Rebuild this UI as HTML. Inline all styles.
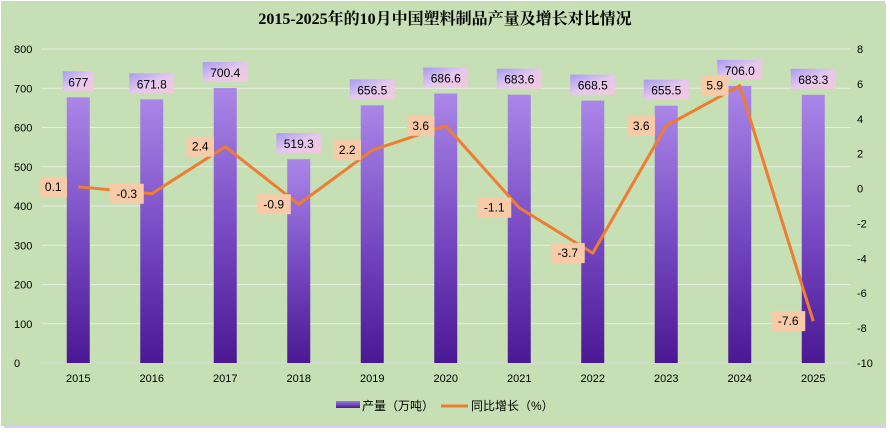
<!DOCTYPE html>
<html><head><meta charset="utf-8"><style>
body{margin:0;background:#fff;}
svg text{font-family:"Liberation Sans","Noto Sans CJK SC",sans-serif;}
svg text.title{font-family:"Liberation Serif","Noto Serif CJK SC",serif;}
</style></head><body>
<svg width="890" height="435" xmlns="http://www.w3.org/2000/svg">
<defs>
<linearGradient id="barG" x1="0" y1="0" x2="0" y2="1">
<stop offset="0" stop-color="#ab86e8"/><stop offset="0.55" stop-color="#7446c0"/><stop offset="1" stop-color="#4a1892"/>
</linearGradient>
<linearGradient id="lblG" x1="0" y1="0" x2="1" y2="1">
<stop offset="0" stop-color="#a79af0"/><stop offset="0.5" stop-color="#e4c8ee"/><stop offset="1" stop-color="#f4c8dc"/>
</linearGradient>
<linearGradient id="legG" x1="0" y1="0" x2="0" y2="1">
<stop offset="0" stop-color="#9c7ae0"/><stop offset="1" stop-color="#4a1892"/>
</linearGradient>
</defs>
<rect x="0" y="0" width="890" height="435" fill="#ffffff"/>
<rect x="4" y="3" width="882" height="425" fill="#d9ccf5"/>
<rect x="1" y="1" width="884" height="425" fill="#c6dfb5"/>
<text class="title" x="445" y="24" text-anchor="middle" font-size="16" font-weight="bold">2015-2025年的10月中国塑料制品产量及增长对比情况</text>
<g id="grid"></g><g id="bars"></g><g id="line"></g><g id="labels"></g><g id="axes"></g>
<g>
<rect x="336" y="401" width="24" height="7" fill="url(#legG)"/>
<text x="362" y="410" font-size="12">产量（万吨）</text>
<line x1="441" y1="406" x2="468" y2="406" stroke="#ed7d31" stroke-width="3"/>
<text x="471" y="410" font-size="12">同比增长（%）</text>
</g>
</svg>
<script>
const categories=["2015","2016","2017","2018","2019","2020","2021","2022","2023","2024","2025"];
const outputValues=[677,671.8,700.4,519.3,656.5,686.6,683.6,668.5,655.5,706.0,683.3];
const outputLabels=["677","671.8","700.4","519.3","656.5","686.6","683.6","668.5","655.5","706.0","683.3"];
const growthValues=[0.1,-0.3,2.4,-0.9,2.2,3.6,-1.1,-3.7,3.6,5.9,-7.6];
const leftTicks=[0,100,200,300,400,500,600,700,800];
const rightTicks=[-10,-8,-6,-4,-2,0,2,4,6,8];
const NS="http://www.w3.org/2000/svg";
const top_=49,bot=363,x0=41.5,step=73.5;
const yL=v=>bot-(v/800)*(bot-top_);
const yR=v=>bot-((v+10)/18)*(bot-top_);
const xC=i=>x0+step*(i+0.5);
function mk(tag,attrs,parent,txt){const e=document.createElementNS(NS,tag);for(const k in attrs)e.setAttribute(k,attrs[k]);if(txt!==undefined)e.textContent=txt;document.getElementById(parent).appendChild(e);return e;}
leftTicks.forEach(t=>{
 const g=mk('line',{x1:x0,x2:851,y1:yL(t),y2:yL(t),stroke:t===0?'#d9d9d9':'#e8eee2','stroke-width':1},'grid');
 
 
 const l=mk('text',{x:14,y:yL(t)+4,'font-size':11},'axes',String(t));
 
 
});
rightTicks.forEach(t=>{
 const l=mk('text',{x:857,y:yR(t)+4,'font-size':11},'axes',String(t));
 
 
});
categories.forEach((c,i)=>{
 const l=mk('text',{x:xC(i),y:382,'font-size':11,'text-anchor':'middle'},'axes',c);
 
 
 const b=mk('rect',{x:xC(i)-11.5,y:yL(outputValues[i]),width:23,height:bot-yL(outputValues[i]),fill:'url(#barG)'},'bars');
 
 
 const ty=yL(outputValues[i])-6;
 const w=outputLabels[i].length*7+10;
 const r=mk('rect',{x:xC(i)-w/2,y:ty-20,width:w,height:20,fill:'url(#lblG)'},'labels');
 
 
 const t=mk('text',{x:xC(i),y:ty-5,'font-size':12,'text-anchor':'middle'},'labels',outputLabels[i]);
 
 
});
const pts=growthValues.map((v,i)=>xC(i)+','+yR(v)).join(' ');
const pl=mk('polyline',{points:pts,fill:'none',stroke:'#ed7d31','stroke-width':3,'stroke-linejoin':'round'},'line');


growthValues.forEach((v,i)=>{
 const s=String(v);const w=s.length*6.5+8;const cx=xC(i)-25,cy=yR(v);
 const r=mk('rect',{x:cx-w/2,y:cy-10,width:w,height:20,fill:'#f8cba8'},'labels');
 
 
 const t=mk('text',{x:cx,y:cy+4,'font-size':12,'text-anchor':'middle'},'labels',s);
 
 
});
</script>
</body></html>
